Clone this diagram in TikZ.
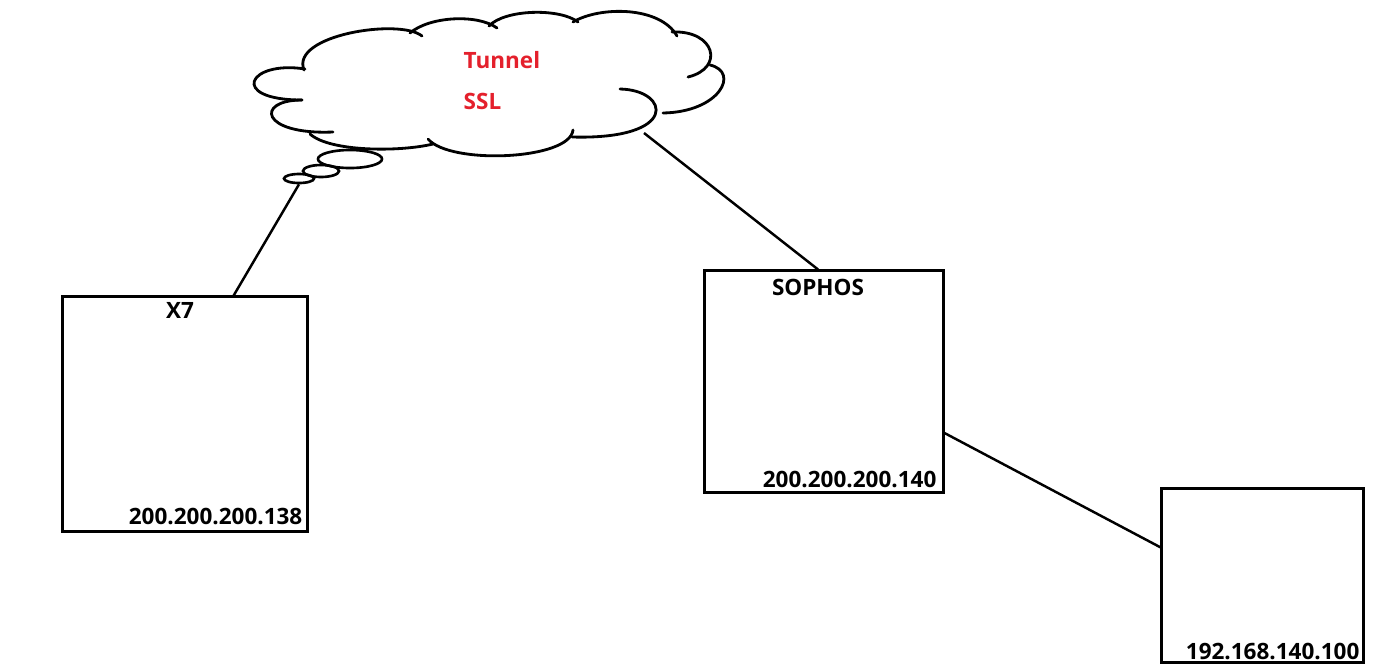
\documentclass[tikz,border=0pt]{standalone}
\usepackage{fontspec}
\setmainfont{Open Sans}
\usetikzlibrary{calc,shapes.geometric}
\definecolor{tunnelred}{RGB}{228,32,44}
\begin{document}
\begin{tikzpicture}[
    x=0.01cm, y=-0.01cm,
    device/.style={rectangle, draw, line width=0.85pt, inner sep=0pt},
    bubble/.style={ellipse, draw, line width=0.75pt, inner sep=0pt},
    lobe/.style={line width=0.8pt, line cap=round},
    link/.style={line width=0.7pt},
    lbl/.style={font=\fontsize{6.4pt}{7.7pt}\selectfont\bfseries, inner sep=0pt},
    redlbl/.style={lbl, text=tunnelred}
]
\useasboundingbox (0,0) rectangle (1382,666);

% Devices
\node[device, minimum width=2.44cm, minimum height=2.34cm] (x7) at (185,414) {};
\node[device, minimum width=2.38cm, minimum height=2.21cm] (sophos) at (824,381.5) {};
\node[device, minimum width=2.01cm, minimum height=1.73cm] (host) at (1262.5,575.5) {};

% Device labels
\node[lbl] (x7name) at (180,310) {X7};
\node[lbl, anchor=east] (x7ip) at (303,516) {200.200.200.138};
\node[lbl] (sophosname) at (818,287) {SOPHOS};
\node[lbl, anchor=east] (sophosip) at (937,479) {200.200.200.140};
\node[lbl, anchor=east] (hostip) at (1360,651) {192.168.140.100};

% Cloud (tunnel)
\draw[lobe] (305,69) .. controls (248,60) and (228,100) .. (302,100);
\draw[lobe] (304,70) .. controls (290,35) and (400,18) .. (422,36);
\draw[lobe] (410,33) .. controls (430,16) and (478,14) .. (497,28);
\draw[lobe] (489,26) .. controls (505,9) and (560,8) .. (578,22);
\draw[lobe] (573,22) .. controls (600,6) and (660,6) .. (677,36);
\draw[lobe] (672,32) .. controls (715,30) and (725,68) .. (688,77);
\draw[lobe] (710,65) .. controls (740,72) and (720,112) .. (663,113);
\draw[lobe] (620,89) .. controls (670,90) and (680,140) .. (572,137);
\draw[lobe] (573,130) .. controls (570,160) and (450,165) .. (428,139);
\draw[lobe] (433,144) .. controls (400,152) and (330,152) .. (310,134);
\draw[lobe] (333,132) .. controls (260,135) and (255,100) .. (302,100);
\coordinate (cloudtail) at (644,133);

% Thought bubbles
\node[bubble, minimum width=0.64cm, minimum height=0.18cm] (b1) at (350,159) {};
\node[bubble, minimum width=0.36cm, minimum height=0.12cm] (b2) at (321,171) {};
\node[bubble, minimum width=0.30cm, minimum height=0.09cm] (b3) at (299,178.5) {};

% Tunnel label
\node[redlbl, anchor=west] (tunnel) at (463,60) {Tunnel};
\node[redlbl, anchor=west] (ssl) at (463,101) {SSL};

% Links
\draw[link] ($(x7.north west)!0.697!(x7.north east)$) -- (b3.south);
\draw[link] (cloudtail) -- ($(sophos.north)+(-6,0)$);
\draw[link] ($(sophos.north east)!0.73!(sophos.south east)$) -- ($(host.north west)!0.34!(host.south west)$);
\end{tikzpicture}
\end{document}
